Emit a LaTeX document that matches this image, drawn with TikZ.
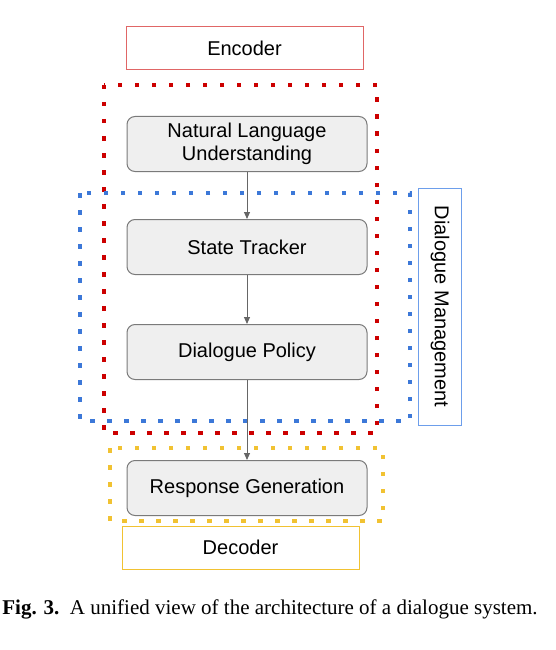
\documentclass[tikz,border=0pt]{standalone}
\usepackage{fontspec}
\setmainfont{Liberation Serif}
\newfontfamily\diagfont{Liberation Sans}
\usetikzlibrary{positioning,arrows.meta}

\definecolor{boxfill}{HTML}{EFEFEF}
\definecolor{boxgray}{HTML}{7A7A7A}
\definecolor{arrowgray}{HTML}{666666}
\definecolor{encred}{HTML}{E06666}
\definecolor{dotred}{HTML}{CC0000}
\definecolor{dmblue}{HTML}{6D9EEB}
\definecolor{dotblue}{HTML}{3C78D8}
\definecolor{decyellow}{HTML}{F1C232}

\begin{document}
\begin{tikzpicture} [
                x=1pt, y=-1pt,
                stagenode/.style={
                    rectangle,
                    rounded corners=8pt,
                    draw=boxgray,
                    fill=boxfill,
                    line width=1pt,
                    minimum width=240pt,
                    minimum height=55pt,
                    align=center,
                    font=\diagfont\fontsize{20}{23.5}\selectfont
                },
                labelbox/.style={
                    rectangle,
                    line width=1pt,
                    minimum width=237pt,
                    minimum height=43pt,
                    font=\diagfont\fontsize{20}{23}\selectfont
                },
                dotframe/.style={
                    line width=4.5pt,
                    dash pattern=on 4.5pt off 12.5pt
                },
                flow/.style={
                    draw=arrowgray,
                    line width=1pt,
                    -{Triangle[length=7pt,width=6pt]}
                }
            ]

                \useasboundingbox (0,0) rectangle (556,650);

                % group frames
                \draw[dotframe, dotred]     (104,85)  rectangle (377,433);
                \draw[dotframe, dotblue]    (80,193)  rectangle (410,421);
                \draw[dotframe, decyellow]  (110,448) rectangle (383,521);

                \node[labelbox, draw=encred]        (encoder)   at (244.5,48.5)     {Encoder};
                \node[labelbox, draw=decyellow]     (decoder)   at (240.5,547.5)    {Decoder};
                \node[labelbox, draw=dmblue, rotate=-90] (dialmgmt) at (440,306.5)  {Dialogue Management};

                \node[stagenode]    (nlu)                                   at (247,144)    {Natural Language\\Understanding};
                \node[stagenode]    (tracker)   [below=47pt of nlu]                         {State Tracker};
                \node[stagenode]    (policy)    [below=49pt of tracker]                     {Dialogue Policy};
                \node[stagenode]    (response)  [below=80pt of policy]                      {Response Generation};

                \draw[flow] (nlu) -- (tracker);
                \draw[flow] (tracker) -- (policy);
                \draw[flow] (policy) -- (response);

                \node[font=\fontsize{21}{24}\selectfont] (caption) at (270,609)
                    {\textbf{Fig. 3.}\enspace A unified view of the architecture of a dialogue system.};

            \end{tikzpicture}
\end{document}
